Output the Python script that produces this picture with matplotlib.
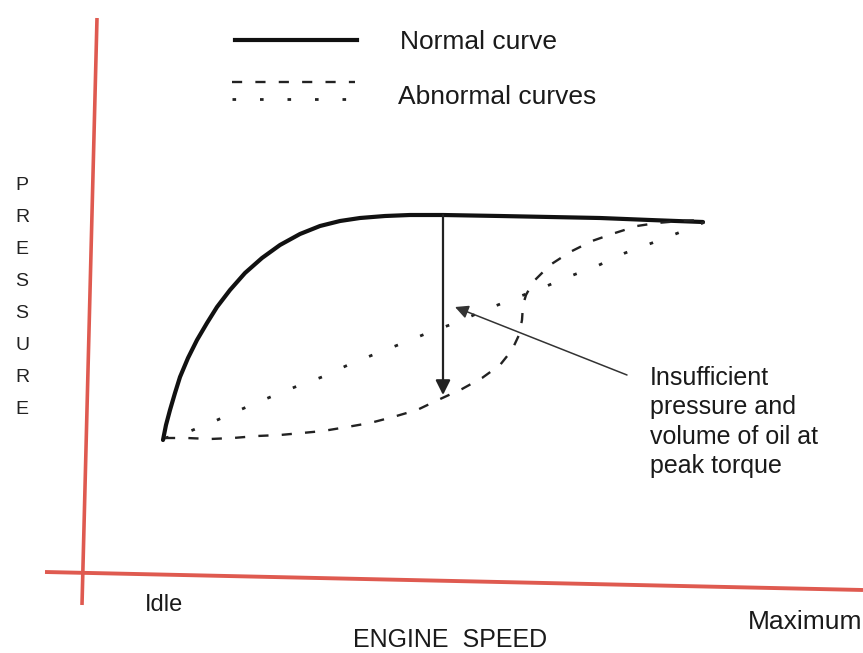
import numpy as np
import matplotlib.pyplot as plt

plt.rcParams['font.family'] = ['Liberation Sans', 'DejaVu Sans']

# Curve points (pixel-like units, y grows downward)
normal_x = [163, 166, 170, 175, 180, 188, 197, 207, 217, 230, 245, 262, 280, 300, 320, 340, 360, 385, 410, 443, 500, 550, 600, 650, 703]
normal_y = [440, 425, 410, 393, 377, 358, 340, 323, 307, 290, 273, 258, 245, 234, 226, 221, 218, 216, 215, 215, 216, 217, 218, 220, 222]

dashed_x = [165, 187, 210, 233, 257, 280, 302, 323, 347, 370, 393, 417, 438, 462, 482, 500, 512, 519, 522, 523, 526, 533, 550, 570, 592, 615, 637, 657, 680, 703]
dashed_y = [438, 438, 439, 438, 436, 435, 433, 431, 427, 423, 417, 410, 400, 389, 378, 365, 350, 335, 320, 305, 295, 282, 265, 252, 241, 233, 226, 223, 221, 220]

dotted_x = [165, 188, 215, 242, 268, 295, 322, 348, 375, 403, 430, 458, 485, 513, 542, 568, 597, 625, 652, 678, 705]
dotted_y = [438, 432, 421, 409, 398, 387, 377, 365, 354, 343, 332, 322, 310, 299, 288, 277, 266, 253, 243, 233, 222]

legend_labels = ["Normal curve", "Abnormal curves"]
axis_word = "PRESSURE"
note_lines = ["Insufficient", "pressure and", "volume of oil at", "peak torque"]

red = '#df5a50'

fig = plt.figure(figsize=(8.63, 6.53), dpi=100)
ax = fig.add_axes([0, 0, 1, 1])
ax.set_xlim(0, 863)
ax.set_ylim(653, 0)
ax.axis('off')

# hand drawn red axes
ax.plot([97, 82], [18, 605], color=red, lw=2.6, solid_capstyle='butt')
ax.plot([45, 863], [572, 590], color=red, lw=2.8, solid_capstyle='butt')

# curves
ax.plot(normal_x, normal_y, color='#111111', lw=3.0, solid_capstyle='round')
ax.plot(dashed_x, dashed_y, color='#222222', lw=1.7, dashes=(4.3, 5.6))
ax.plot(dotted_x, dotted_y, color='#222222', lw=2.0, dashes=(1.3, 8.6))

# legend
ax.plot([235, 357], [40, 40], color='#111111', lw=3.0)
ax.plot([232, 355], [82, 82], color='#222222', lw=1.7, dashes=(4.3, 5.6))
ax.plot([232, 355], [99, 99], color='#222222', lw=2.0, dashes=(1.3, 8.6))
ax.text(400, 42, legend_labels[0], fontsize=19, va='center', ha='left', color='#1a1a1a')
ax.text(398, 97, legend_labels[1], fontsize=19, va='center', ha='left', color='#1a1a1a')

# vertical drop arrow
ax.annotate('', xy=(443, 395), xytext=(443, 215),
            arrowprops=dict(arrowstyle='-|>', color='#222222', lw=1.6,
                            mutation_scale=22, shrinkA=0, shrinkB=0))
# pointer arrow
ax.annotate('', xy=(455, 307), xytext=(627, 375),
            arrowprops=dict(arrowstyle='-|>', color='#333333', lw=1.1,
                            mutation_scale=20, shrinkA=0, shrinkB=0))

ax.text(650, 366, "\n".join(note_lines), fontsize=18, va='top', ha='left',
        linespacing=1.28, color='#1a1a1a')

# vertical PRESSURE label
for i, ch in enumerate(axis_word):
    ax.text(22, 185 + i * 32, ch, fontsize=14, ha='center', va='center', color='#222222')

ax.text(145, 605, "Idle", fontsize=17, ha='left', va='center', color='#1a1a1a')
ax.text(450, 640, "ENGINE  SPEED", fontsize=18, ha='center', va='center', color='#1a1a1a')
ax.text(748, 622, "Maximum", fontsize=19, ha='left', va='center', color='#1a1a1a')

fig.savefig('out.png', dpi=100)
